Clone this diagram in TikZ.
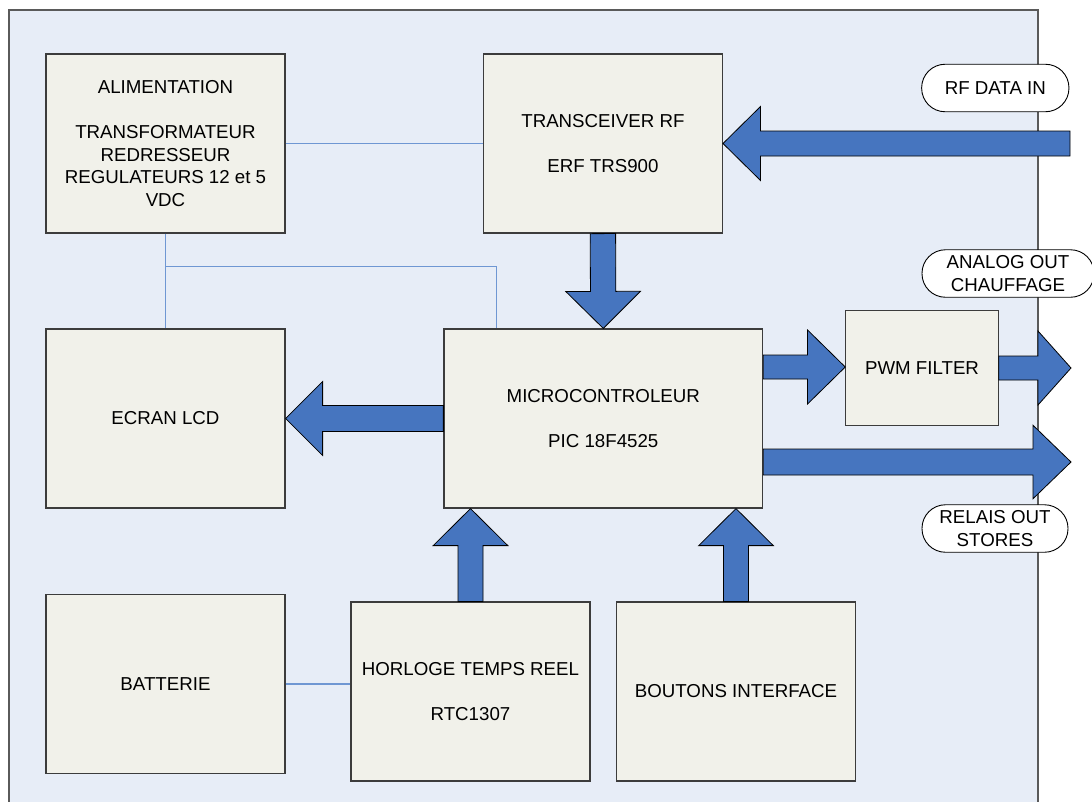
\documentclass[tikz,border=0pt]{standalone}
\usepackage{fontspec}
\setmainfont{Liberation Sans}
\usetikzlibrary{calc}

\definecolor{panelbg}{HTML}{E7EDF7}
\definecolor{panelline}{HTML}{5A5A5A}
\definecolor{boxbg}{HTML}{F1F1EA}
\definecolor{boxline}{HTML}{3C3C3C}
\definecolor{arrowbg}{HTML}{4675BF}
\definecolor{wireblue}{HTML}{6F97D3}

\tikzset{
  block/.style={draw=boxline, line width=1.2pt, fill=boxbg, align=center,
    minimum width=239pt, minimum height=179pt, inner sep=0pt,
    font=\fontsize{18.7}{22.5}\selectfont},
  pill/.style={draw=black, line width=0.9pt, fill=white, align=center,
    rounded corners=23.5pt, minimum height=47.5pt, inner sep=0pt,
    font=\fontsize{18.7}{23}\selectfont},
  wire/.style={draw=wireblue, line width=1.1pt},
  bigarrow/.style={draw=black, line width=0.8pt, fill=arrowbg, line join=miter},
}

% block arrow: #1 start, #2 tip, #3 shaft half width, #4 head half width, #5 head length
\newcommand\blockarrow[5]{%
  \coordinate (ahb) at ($(#2)!#5!(#1)$);
  \draw[bigarrow] ($(#1)!#3!90:(#2)$) -- ($(ahb)!#3!90:(#2)$)
    -- ($(ahb)!#4!90:(#2)$) -- (#2) -- ($(ahb)!#4!-90:(#2)$)
    -- ($(ahb)!#3!-90:(#2)$) -- ($(#1)!#3!-90:(#2)$) -- cycle;}

\begin{document}
\begin{tikzpicture}[x=1pt, y=-1pt]
  \useasboundingbox (0,0) rectangle (1092,801);

  % background panel
  \fill[panelbg] (9,10) rectangle (1038,830);
  \draw[panelline, line width=1.1pt] (9,830) -- (9,10) -- (1038,10) -- (1038,830);

  % blocks
  \node[block] (alim) at (165.5,143.5) {ALIMENTATION\\[22.5pt]TRANSFORMATEUR\\REDRESSEUR\\REGULATEURS 12 et 5\\VDC};
  \node[block] (trx)  at (602.9,143.5) {TRANSCEIVER RF\\[22.5pt]ERF TRS900};
  \node[block] (lcd)  at (165.5,418.5) {ECRAN LCD};
  \node[block, minimum width=318.7pt] (mcu) at (603.3,418.5) {MICROCONTROLEUR\\[22.5pt]PIC 18F4525};
  \node[block, minimum width=152.3pt, minimum height=114.3pt] (pwm) at (922,368) {PWM FILTER};
  \node[block] (bat)  at (165.5,684) {BATTERIE};
  \node[block] (rtc)  at (470.5,691.5) {HORLOGE TEMPS REEL\\[22.5pt]RTC1307};
  \node[block] (btn)  at (736,691.5) {BOUTONS INTERFACE};

  % supply wiring
  \coordinate (pwrjoin) at ($(alim.south)+(0,32.7)$);
  \coordinate (mcutop) at ($(mcu.north west)+(53.3,0)$);
  \draw[wire] (alim) -- (trx);
  \draw[wire] (alim.south) -- (lcd.north);
  \draw[wire] (pwrjoin) -| (mcutop);
  \draw[wire] (bat.east) -- (bat.east -| rtc.west);

  % data paths
  \coordinate (rfsrc) at (1070,143.5);
  \coordinate (pwmsrc) at ($(mcu.east)+(0,-51.5)$);
  \coordinate (pwmin) at (pwm.west |- pwmsrc);
  \coordinate (pwmout) at (1071,368);
  \coordinate (relsrc) at ($(mcu.east)+(0,43.5)$);
  \coordinate (reltip) at (1071,462);
  \coordinate (rtctip) at (rtc.north |- mcu.south);
  \coordinate (btntip) at (btn.north |- mcu.south);

  \blockarrow{rfsrc}{trx.east}{12.5pt}{37pt}{37.5pt}
  \blockarrow{trx.south}{mcu.north}{12.7pt}{37.3pt}{37pt}
  \blockarrow{mcu.west}{lcd.east}{13pt}{37pt}{37pt}
  \blockarrow{pwmsrc}{pwmin}{12pt}{37pt}{37.7pt}
  \blockarrow{pwm.east}{pwmout}{12pt}{37pt}{33pt}
  \blockarrow{relsrc}{reltip}{13pt}{36.7pt}{38pt}
  \blockarrow{rtc.north}{rtctip}{12.5pt}{37.3pt}{37pt}
  \blockarrow{btn.north}{btntip}{12.5pt}{37.3pt}{37pt}

  % external signal labels
  \node[pill, minimum width=147.3pt] (rfin) at (995.3,88) {RF DATA IN};
  \node[pill, minimum width=172pt] (anaout) at (1008,273.5) {ANALOG OUT\\CHAUFFAGE};
  \node[pill, minimum width=146pt] (relout) at (995,528.5) {RELAIS OUT\\STORES};
\end{tikzpicture}
\end{document}
